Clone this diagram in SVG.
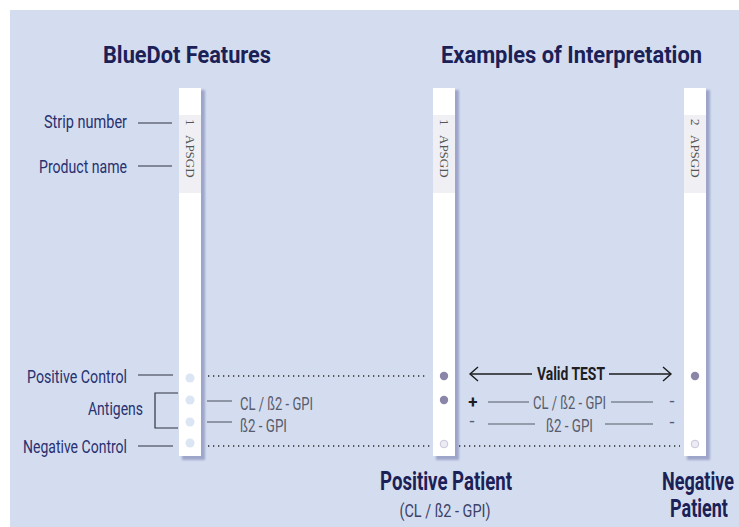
<svg xmlns="http://www.w3.org/2000/svg" width="739" height="527" viewBox="0 0 739 527">
<defs>
<style>
.title{font-family:Roboto,"Liberation Sans",sans-serif;font-weight:700;font-size:24px;fill:#1b2157}
.lbl{font-family:Roboto,"Liberation Sans",sans-serif;font-size:19px;fill:#283070}
.sub{font-family:Roboto,"Liberation Sans",sans-serif;font-size:18px;fill:#585c6c}
.big{font-family:Roboto,"Liberation Sans",sans-serif;font-weight:700;font-size:25px;fill:#1b2157}
.bigs{font-family:Roboto,"Liberation Sans",sans-serif;font-weight:700;font-size:18px;fill:#1b2157}
.strip{font-family:"Liberation Serif",serif;font-size:13px;fill:#555555}
.ln{stroke:#2e3340;stroke-width:1.2;fill:none}
.gl{stroke:#555a66;stroke-width:1.1;fill:none}
.dot{stroke:#2a2a2a;stroke-width:1.3;stroke-dasharray:1.3 3.7;fill:none}
.arr{stroke:#1b1b1b;stroke-width:1.4;fill:none}
.sh{fill:#9ea5cb}
.st{fill:#ffffff}
.band{fill:#f0f0f4}
.ld{fill:#dbe5f3}
.pd{fill:#8a86a8}
.nd{fill:#ecebf3;stroke:#c9c6da;stroke-width:1}
</style>
<filter id="blur" x="-50%" y="-10%" width="200%" height="120%"><feGaussianBlur stdDeviation="1.3"/></filter>
</defs>
<rect x="10" y="10" width="729" height="517" fill="#d4ddef"/>

<g id="titles">
<text class="title" x="103" y="63" textLength="168" lengthAdjust="spacingAndGlyphs">BlueDot Features</text>
<text class="title" x="441" y="63" textLength="261" lengthAdjust="spacingAndGlyphs">Examples of Interpretation</text>
</g>

<g id="strip-features">
<rect class="sh" x="182" y="90" width="23" height="370" filter="url(#blur)"/>
<rect class="st" x="179" y="88" width="22" height="368"/>
<rect class="band" x="179" y="115" width="22" height="78"/>
<text class="strip" transform="translate(186,119) rotate(90)">1</text>
<text class="strip" transform="translate(186,135) rotate(90)">APSGD</text>
<circle class="ld" cx="190" cy="378" r="4.5"/>
<circle class="ld" cx="190" cy="400" r="4.5"/>
<circle class="ld" cx="190" cy="422" r="4.5"/>
<circle class="ld" cx="190" cy="443" r="4.5"/>
</g>

<g id="strip-positive">
<rect class="sh" x="436" y="90" width="23" height="370" filter="url(#blur)"/>
<rect class="st" x="433" y="88" width="22" height="368"/>
<rect class="band" x="433" y="115" width="22" height="78"/>
<text class="strip" transform="translate(440,119) rotate(90)">1</text>
<text class="strip" transform="translate(440,135) rotate(90)">APSGD</text>
<circle class="pd" cx="444" cy="376" r="4.2"/>
<circle class="pd" cx="444" cy="400" r="4.2"/>
<circle class="nd" cx="444" cy="444" r="3.8"/>
</g>

<g id="strip-negative">
<rect class="sh" x="687" y="90" width="23" height="370" filter="url(#blur)"/>
<rect class="st" x="684" y="88" width="22" height="368"/>
<rect class="band" x="684" y="115" width="22" height="78"/>
<text class="strip" transform="translate(691,119) rotate(90)">2</text>
<text class="strip" transform="translate(691,135) rotate(90)">APSGD</text>
<circle class="pd" cx="695" cy="376" r="4.2"/>
<circle class="nd" cx="695" cy="444" r="3.8"/>
</g>

<g id="feature-labels">
<text class="lbl" x="127" y="128" text-anchor="end" textLength="83" lengthAdjust="spacingAndGlyphs">Strip number</text>
<text class="lbl" x="127" y="173" text-anchor="end" textLength="88" lengthAdjust="spacingAndGlyphs">Product name</text>
<text class="lbl" x="127" y="383" text-anchor="end" textLength="100" lengthAdjust="spacingAndGlyphs">Positive Control</text>
<text class="lbl" x="143" y="415" text-anchor="end" textLength="55" lengthAdjust="spacingAndGlyphs">Antigens</text>
<text class="lbl" x="127" y="453" text-anchor="end" textLength="104" lengthAdjust="spacingAndGlyphs">Negative Control</text>
<text class="sub" x="240" y="410" textLength="73" lengthAdjust="spacingAndGlyphs">CL / ß2 - GPI</text>
<text class="sub" x="240" y="432" textLength="47" lengthAdjust="spacingAndGlyphs">ß2 - GPI</text>
</g>

<g id="result-labels">
<text class="big" x="446" y="490" text-anchor="middle" textLength="132" lengthAdjust="spacingAndGlyphs">Positive Patient</text>
<text class="sub" x="445" y="517" text-anchor="middle" textLength="91" lengthAdjust="spacingAndGlyphs" style="fill:#3c4268">(CL / ß2 - GPI)</text>
<text class="bigs" text-anchor="middle" transform="translate(698,490) scale(1,1.38)">Negative</text>
<text class="bigs" text-anchor="middle" transform="translate(699,517) scale(1,1.38)">Patient</text>
<text x="537" y="380" textLength="68" lengthAdjust="spacingAndGlyphs" style="font-family:Roboto,'Liberation Sans',sans-serif;font-weight:700;font-size:18px;fill:#1e1e24">Valid TEST</text>
<text class="sub" x="533" y="409" textLength="73" lengthAdjust="spacingAndGlyphs">CL / ß2 - GPI</text>
<text class="sub" x="546" y="432" textLength="47" lengthAdjust="spacingAndGlyphs">ß2 - GPI</text>
<text x="473" y="408" text-anchor="middle" style="font-family:Roboto,'Liberation Sans',sans-serif;font-weight:700;font-size:17px;fill:#1e1e24">+</text>
<text class="sub" x="472" y="427" text-anchor="middle">-</text>
<text class="sub" x="672" y="407" text-anchor="middle">-</text>
<text class="sub" x="672" y="428" text-anchor="middle">-</text>
</g>

<g id="connectors">
<line class="ln" x1="138" y1="123" x2="172" y2="123"/>
<line class="ln" x1="138" y1="166" x2="172" y2="166"/>
<line class="ln" x1="138" y1="375" x2="173" y2="375"/>
<polyline class="ln" points="178,393 155,393 155,428 178,428"/>
<line class="ln" x1="138" y1="446" x2="173" y2="446"/>
<line class="gl" x1="207" y1="401" x2="232" y2="401"/>
<line class="gl" x1="207" y1="422" x2="232" y2="422"/>
<line class="dot" x1="208" y1="376" x2="428" y2="376"/>
<line class="dot" x1="208" y1="446" x2="432" y2="446"/>
<line class="dot" x1="459" y1="446" x2="680" y2="446"/>
<line class="arr" x1="470" y1="374" x2="532" y2="374"/>
<polyline class="arr" points="478,367 470,374 478,381"/>
<line class="arr" x1="609" y1="374" x2="671" y2="374"/>
<polyline class="arr" points="663,367 671,374 663,381"/>
<line class="gl" x1="488" y1="402" x2="529" y2="402"/>
<line class="gl" x1="611" y1="402" x2="653" y2="402"/>
<line class="gl" x1="488" y1="424" x2="535" y2="424"/>
<line class="gl" x1="605" y1="424" x2="653" y2="424"/>
</g>
</svg>
